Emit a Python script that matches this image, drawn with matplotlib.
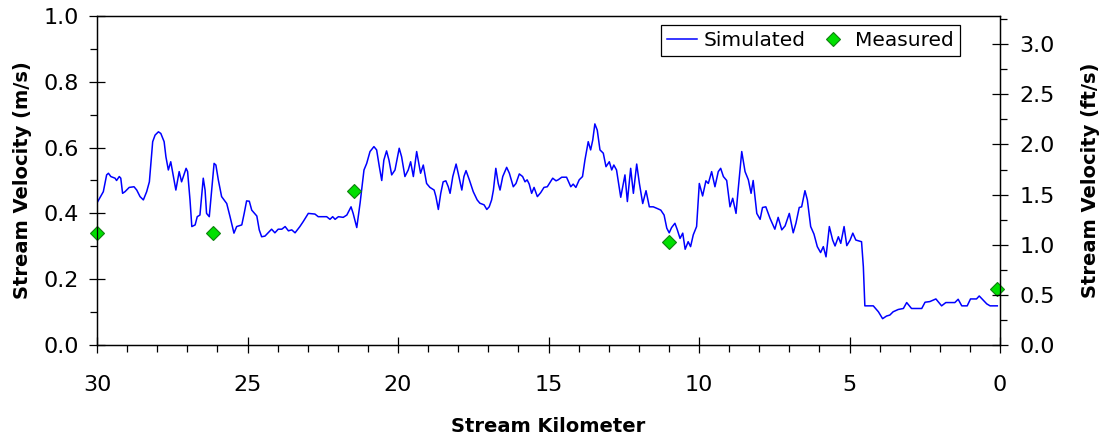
import numpy as np
import matplotlib
matplotlib.use("Agg")
import matplotlib.pyplot as plt
from matplotlib.ticker import MultipleLocator

# simulated velocity along the stream (km, m/s)
sim_km = [30.0, 29.79, 29.68, 29.62, 29.54, 29.40, 29.35, 29.26, 29.21, 29.15, 29.07, 28.93, 28.77, 28.68,
          28.57, 28.46, 28.35, 28.26, 28.15, 28.07, 27.96, 27.88, 27.77, 27.71, 27.63, 27.55, 27.47, 27.38,
          27.27, 27.19, 27.04, 26.99, 26.91, 26.85, 26.74, 26.67, 26.58, 26.47, 26.41, 26.36, 26.27, 26.19,
          26.11, 26.05, 25.97, 25.86, 25.69, 25.58, 25.45, 25.36, 25.19, 25.11, 25.03, 24.94, 24.86, 24.69,
          24.61, 24.53, 24.42, 24.20, 24.09, 23.98, 23.86, 23.75, 23.64, 23.53, 23.42, 23.26, 23.15, 22.98,
          22.76, 22.65, 22.37, 22.26, 22.17, 22.09, 21.98, 21.82, 21.70, 21.56, 21.49, 21.37, 21.26, 21.13,
          21.04, 20.93, 20.80, 20.71, 20.62, 20.54, 20.47, 20.38, 20.30, 20.21, 20.10, 19.96, 19.88, 19.77,
          19.66, 19.58, 19.49, 19.38, 19.29, 19.25, 19.16, 19.05, 18.94, 18.80, 18.74, 18.66, 18.58, 18.50,
          18.41, 18.33, 18.27, 18.18, 18.07, 18.00, 17.88, 17.81, 17.74, 17.63, 17.50, 17.37, 17.28, 17.14,
          17.05, 16.97, 16.89, 16.83, 16.75, 16.67, 16.61, 16.52, 16.39, 16.30, 16.17, 16.08, 15.97, 15.86,
          15.78, 15.71, 15.64, 15.56, 15.48, 15.37, 15.26, 15.15, 15.04, 14.95, 14.86, 14.75, 14.68, 14.56,
          14.40, 14.26, 14.18, 14.09, 13.98, 13.87, 13.79, 13.68, 13.60, 13.53, 13.46, 13.38, 13.29, 13.18,
          13.09, 12.98, 12.90, 12.83, 12.74, 12.60, 12.46, 12.38, 12.27, 12.18, 12.07, 11.98, 11.87, 11.76,
          11.65, 11.52, 11.39, 11.27, 11.16, 11.07, 10.99, 10.91, 10.80, 10.72, 10.63, 10.54, 10.46, 10.36,
          10.28, 10.19, 10.08, 9.99, 9.88, 9.77, 9.69, 9.58, 9.47, 9.36, 9.28, 9.19, 9.08, 8.97,
          8.88, 8.77, 8.70, 8.58, 8.47, 8.36, 8.27, 8.20, 8.08, 7.97, 7.89, 7.78, 7.64, 7.48,
          7.37, 7.25, 7.14, 7.00, 6.87, 6.78, 6.67, 6.59, 6.48, 6.40, 6.29, 6.18, 6.07, 5.96,
          5.87, 5.78, 5.67, 5.56, 5.48, 5.37, 5.29, 5.18, 5.09, 4.98, 4.89, 4.79, 4.60, 4.54,
          4.49, 4.21, 4.04, 3.90, 3.77, 3.66, 3.55, 3.38, 3.21, 3.10, 2.94, 2.60, 2.49, 2.33,
          2.13, 1.94, 1.80, 1.50, 1.39, 1.27, 1.09, 0.98, 0.78, 0.69, 0.44, 0.33, 0.09]
sim_vel = [0.432, 0.466, 0.517, 0.522, 0.512, 0.507, 0.500, 0.512, 0.507, 0.461, 0.466, 0.479, 0.481, 0.471,
           0.451, 0.441, 0.466, 0.496, 0.618, 0.638, 0.648, 0.643, 0.618, 0.572, 0.532, 0.557, 0.517, 0.471,
           0.527, 0.496, 0.537, 0.527, 0.441, 0.360, 0.365, 0.390, 0.395, 0.507, 0.471, 0.400, 0.390, 0.471,
           0.552, 0.547, 0.502, 0.451, 0.430, 0.390, 0.340, 0.360, 0.365, 0.400, 0.438, 0.437, 0.410, 0.392,
           0.350, 0.329, 0.331, 0.352, 0.341, 0.352, 0.352, 0.360, 0.347, 0.350, 0.341, 0.360, 0.375, 0.400,
           0.398, 0.390, 0.390, 0.382, 0.390, 0.382, 0.390, 0.388, 0.395, 0.420, 0.400, 0.357, 0.431, 0.532,
           0.552, 0.588, 0.603, 0.593, 0.542, 0.500, 0.562, 0.590, 0.562, 0.517, 0.532, 0.598, 0.572, 0.512,
           0.532, 0.557, 0.512, 0.588, 0.542, 0.522, 0.547, 0.491, 0.479, 0.471, 0.451, 0.412, 0.461, 0.496,
           0.499, 0.481, 0.461, 0.512, 0.550, 0.522, 0.471, 0.512, 0.530, 0.502, 0.466, 0.441, 0.431, 0.426,
           0.412, 0.420, 0.441, 0.471, 0.537, 0.491, 0.471, 0.512, 0.540, 0.522, 0.481, 0.491, 0.520, 0.512,
           0.496, 0.502, 0.489, 0.461, 0.479, 0.451, 0.463, 0.479, 0.481, 0.494, 0.507, 0.499, 0.502, 0.510,
           0.510, 0.481, 0.489, 0.479, 0.502, 0.512, 0.562, 0.618, 0.593, 0.623, 0.672, 0.653, 0.593, 0.583,
           0.542, 0.557, 0.532, 0.547, 0.532, 0.449, 0.517, 0.436, 0.537, 0.461, 0.550, 0.491, 0.430, 0.469,
           0.420, 0.420, 0.415, 0.410, 0.395, 0.355, 0.341, 0.357, 0.370, 0.350, 0.324, 0.340, 0.291, 0.314,
           0.299, 0.335, 0.360, 0.491, 0.453, 0.499, 0.491, 0.527, 0.481, 0.527, 0.537, 0.512, 0.500, 0.420,
           0.446, 0.400, 0.471, 0.588, 0.527, 0.502, 0.461, 0.500, 0.400, 0.382, 0.418, 0.420, 0.385, 0.352,
           0.388, 0.350, 0.362, 0.400, 0.341, 0.370, 0.418, 0.420, 0.469, 0.441, 0.360, 0.337, 0.299, 0.281,
           0.299, 0.268, 0.360, 0.319, 0.301, 0.329, 0.309, 0.360, 0.302, 0.319, 0.340, 0.319, 0.314, 0.238,
           0.119, 0.119, 0.101, 0.080, 0.088, 0.091, 0.101, 0.108, 0.111, 0.129, 0.111, 0.111, 0.130, 0.132,
           0.140, 0.119, 0.129, 0.129, 0.139, 0.119, 0.119, 0.140, 0.140, 0.149, 0.125, 0.119, 0.119]

# field measurements
meas_km = [30.0, 26.15, 21.46, 11.0, 0.1]
meas_vel = [0.34, 0.34, 0.468, 0.313, 0.17]

M_TO_FT = 3.28084

fig = plt.figure(figsize=(11.07, 4.42), dpi=100)
ax = fig.add_axes([97/1107, 1 - 345/442, 903/1107, 329/442])

ax.plot(sim_km, sim_vel, color="#0000ff", lw=1.1, label="Simulated")
ax.plot(meas_km, meas_vel, ls="none", marker="D", ms=7, mfc="#00e000", mec="#108010",
        mew=0.8, label="Measured", clip_on=False, zorder=5)

ax.set_xlim(30, 0)
ax.set_ylim(0, 1.0)
ax.xaxis.set_major_locator(MultipleLocator(5))
ax.xaxis.set_minor_locator(MultipleLocator(1))
ax.yaxis.set_major_locator(MultipleLocator(0.2))
ax.yaxis.set_minor_locator(MultipleLocator(0.1))
ax.yaxis.set_major_formatter(plt.FormatStrFormatter("%.1f"))

ax.tick_params(axis="x", which="major", direction="inout", length=11.5, width=0.9,
               pad=16, labelsize=16, top=False)
ax.tick_params(axis="x", which="minor", direction="out", length=5, width=0.9, top=False)
ax.tick_params(axis="y", which="major", direction="inout", length=11.5, width=0.9,
               pad=7, labelsize=16, right=False)
ax.tick_params(axis="y", which="minor", direction="out", length=5, width=0.9, right=False)

ax2 = ax.twinx()
ax2.set_ylim(0, M_TO_FT)
ax2.yaxis.set_major_locator(MultipleLocator(0.5))
ax2.yaxis.set_minor_locator(MultipleLocator(0.25))
ax2.yaxis.set_major_formatter(plt.FormatStrFormatter("%.1f"))
ax2.tick_params(axis="y", which="major", direction="inout", length=11.5, width=0.9,
                pad=8, labelsize=16)
ax2.tick_params(axis="y", which="minor", direction="out", length=5, width=0.9)

for a in (ax, ax2):
    for s in a.spines.values():
        s.set_linewidth(0.9)

ax.set_xlabel("Stream Kilometer", fontsize=14, fontweight="bold", va="center")
ax.xaxis.set_label_coords(0.5, -0.249)
ax.set_ylabel("Stream Velocity (m/s)", fontsize=14, fontweight="bold", va="center")
ax.yaxis.set_label_coords(-0.083, 0.5)
ax2.set_ylabel("Stream Velocity (ft/s)", fontsize=14, fontweight="bold", va="center")
ax2.yaxis.set_label_coords(1.0997, 0.5)

leg = ax.legend(loc="upper right", bbox_to_anchor=(0.9557, 0.9726), borderaxespad=0,
                ncol=2, fontsize=14.5, frameon=True, fancybox=False, framealpha=1,
                handlelength=1.5, handletextpad=0.35, columnspacing=0.6, borderpad=0.3)
leg.get_frame().set_edgecolor("black")
leg.get_frame().set_linewidth(0.9)

fig.savefig("out.png", dpi=100)
